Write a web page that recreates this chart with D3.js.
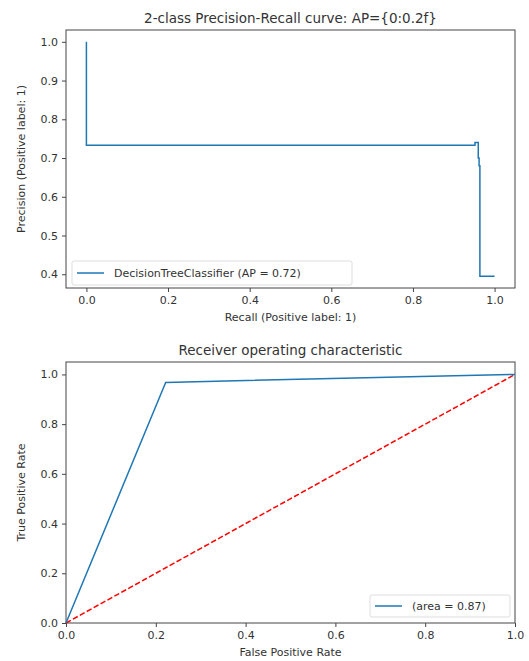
<!DOCTYPE html>
<html>
<head>
<meta charset="utf-8">
<script src="https://cdn.jsdelivr.net/npm/d3@7"></script>
<style>
  body { margin: 0; background: #fff; }
  svg text { font-family: "DejaVu Sans", sans-serif; fill: #333; }
</style>
</head>
<body>
<div id="mainDiv"></div>
<script>
// Precision-recall curve (drawn as steps-post)
const prRecall    = [0, 0, 0.952, 0.960, 0.962, 0.964, 1.0];
const prPrecision = [1.0, 0.733, 0.740, 0.700, 0.680, 0.395, 0.395];
const prTicksX = [0, 0.2, 0.4, 0.6, 0.8, 1.0];
const prTicksY = [0.4, 0.5, 0.6, 0.7, 0.8, 0.9, 1.0];

// ROC curve
const rocFpr = [0, 0.222, 1.0];
const rocTpr = [0, 0.968, 1.0];
const chanceLine = [0, 1];
const rocTicks = [0, 0.2, 0.4, 0.6, 0.8, 1.0];

const blue = "#1f77b4";

let svg = d3.select("#mainDiv").append("svg")
  .attr("width", 529)
  .attr("height", 661);

// draw one axes frame with ticks, labels, title
function frame(box, x, y, ticksX, ticksY, title, xlab, ylab) {
  let g = svg.append("g");

  g.append("g")
    .attr("transform", "translate(0," + box.bottom + ")")
    .call(d3.axisBottom(x).tickValues(ticksX).tickFormat(d3.format(".1f")).tickSize(4).tickPadding(4))
    .call(a => a.select(".domain").remove());

  g.append("g")
    .attr("transform", "translate(" + box.left + ",0)")
    .call(d3.axisLeft(y).tickValues(ticksY).tickFormat(d3.format(".1f")).tickSize(4).tickPadding(4))
    .call(a => a.select(".domain").remove());

  g.selectAll(".tick text").style("font-size", "11px").attr("fill", "#333");
  g.selectAll(".tick line").attr("stroke", "#444");

  g.append("rect")
    .attr("x", box.left).attr("y", box.top)
    .attr("width", box.right - box.left).attr("height", box.bottom - box.top)
    .attr("fill", "none").attr("stroke", "#444").attr("stroke-width", 1);

  g.append("text")
    .attr("x", (box.left + box.right) / 2).attr("y", box.top - 7)
    .attr("text-anchor", "middle").style("font-size", "13.5px")
    .text(title);

  g.append("text")
    .attr("x", (box.left + box.right) / 2).attr("y", box.bottom + 33)
    .attr("text-anchor", "middle").style("font-size", "11px")
    .text(xlab);

  g.append("text")
    .attr("transform", "translate(" + (box.left - 41) + "," + ((box.top + box.bottom) / 2) + ") rotate(-90)")
    .attr("text-anchor", "middle").style("font-size", "11px")
    .text(ylab);

  return g;
}

function legend(g, bx, by, bw, bh, label) {
  g.append("rect")
    .attr("x", bx).attr("y", by).attr("width", bw).attr("height", bh)
    .attr("rx", 2).attr("fill", "#fff").attr("fill-opacity", 0.8)
    .attr("stroke", "#ddd");
  g.append("line")
    .attr("x1", bx + 5).attr("x2", bx + 32)
    .attr("y1", by + bh / 2).attr("y2", by + bh / 2)
    .attr("stroke", blue).attr("stroke-width", 1.5);
  g.append("text")
    .attr("x", bx + 42).attr("y", by + bh / 2 + 4)
    .style("font-size", "11px")
    .text(label);
}

// ---- top: precision-recall
let box1 = {left: 66, right: 515, top: 30, bottom: 288};
let x1 = d3.scaleLinear().domain([-0.05, 1.05]).range([box1.left, box1.right]);
let y1 = d3.scaleLinear().domain([0.3645, 1.0305]).range([box1.bottom, box1.top]);

let g1 = frame(box1, x1, y1, prTicksX, prTicksY,
  "2-class Precision-Recall curve: AP={0:0.2f}",
  "Recall (Positive label: 1)",
  "Precision (Positive label: 1)");

g1.append("path")
  .datum(d3.zip(prRecall, prPrecision))
  .attr("fill", "none").attr("stroke", blue).attr("stroke-width", 1.5)
  .attr("d", d3.line().x(d => x1(d[0])).y(d => y1(d[1])).curve(d3.curveStepAfter));

legend(g1, 72, 261, 280, 24, "DecisionTreeClassifier (AP = 0.72)");

// ---- bottom: ROC
let box2 = {left: 66, right: 515, top: 362, bottom: 623};
let x2 = d3.scaleLinear().domain([0, 1]).range([box2.left, box2.right]);
let y2 = d3.scaleLinear().domain([0, 1.05]).range([box2.bottom, box2.top]);

let g2 = frame(box2, x2, y2, rocTicks, rocTicks,
  "Receiver operating characteristic",
  "False Positive Rate",
  "True Positive Rate");

g2.append("path")
  .datum(d3.zip(chanceLine, chanceLine))
  .attr("fill", "none").attr("stroke", "red").attr("stroke-width", 1.5)
  .attr("stroke-dasharray", "5.5,2.4")
  .attr("d", d3.line().x(d => x2(d[0])).y(d => y2(d[1])));

g2.append("path")
  .datum(d3.zip(rocFpr, rocTpr))
  .attr("fill", "none").attr("stroke", blue).attr("stroke-width", 1.5)
  .attr("d", d3.line().x(d => x2(d[0])).y(d => y2(d[1])));

legend(g2, 370, 595, 140, 22, "(area = 0.87)");
</script>
</body>
</html>
